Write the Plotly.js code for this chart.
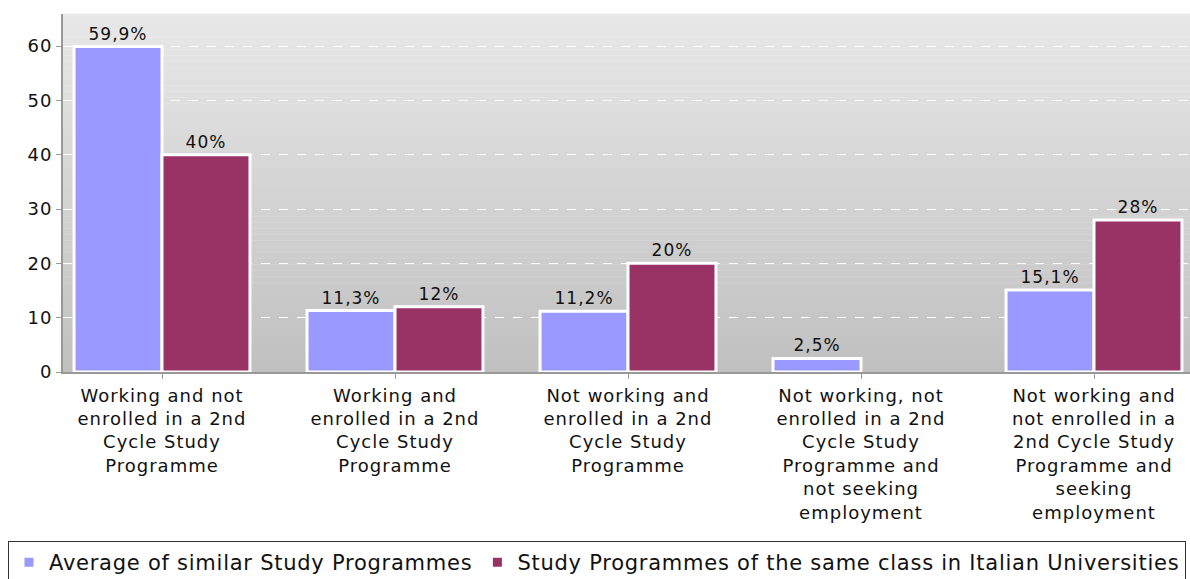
<!DOCTYPE html>
<html>
<head>
<meta charset="utf-8">
<script src="https://cdn.plot.ly/plotly-3.0.1.min.js"></script>
<style>
html,body{margin:0;padding:0;background:#fff;}
#chart{width:1190px;height:579px;}
text{letter-spacing:1px;}
text.legendtext{letter-spacing:0.75px;}
</style>
</head>
<body>
<div id="chart"></div>
<script>
const categories = [
  "Working and not<br>enrolled in a 2nd<br>Cycle Study<br>Programme",
  "Working and<br>enrolled in a 2nd<br>Cycle Study<br>Programme",
  "Not working and<br>enrolled in a 2nd<br>Cycle Study<br>Programme",
  "Not working, not<br>enrolled in a 2nd<br>Cycle Study<br>Programme and<br>not seeking<br>employment",
  "Not working and<br>not enrolled in a<br>2nd Cycle Study<br>Programme and<br>seeking<br>employment"
];
const seriesNames = [
  "Average of similar Study Programmes",
  "Study Programmes of the same class in Italian Universities"
];
const averageSimilar = [59.9, 11.3, 11.2, 2.5, 15.1];
const sameClassItaly = [40, 12, 20, null, 28];
const seriesColors = ["#9999ff", "#993366"];

const FONT = "DejaVu Sans, Verdana, sans-serif";
const xIdx = categories.map((c, i) => i);
function pctText(arr) {
  return arr.map(v => v === null ? "" : String(v).replace(".", ",") + "%");
}

function makeTrace(vals, i) {
  return {
    type: "bar",
    name: seriesNames[i],
    x: xIdx,
    y: vals,
    text: pctText(vals),
    textposition: "outside",
    cliponaxis: false,
    textfont: {family: FONT, size: 17, color: "#111"},
    marker: {color: seriesColors[i], line: {color: "#ffffff", width: 3}},
    hoverinfo: "none"
  };
}

const data = [makeTrace(averageSimilar, 0), makeTrace(sameClassItaly, 1)];

// vertical grey gradient for plot background
const shapes = [];
const N = 60;
const cTop = [232, 232, 232], cBot = [192, 192, 192];
for (let k = 0; k < N; k++) {
  const t = (k + 0.5) / N;
  const c = cTop.map((a, j) => Math.round(a + (cBot[j] - a) * t));
  shapes.push({
    type: "rect", xref: "paper", yref: "paper", layer: "below",
    x0: 0, x1: 1, y0: 1 - (k + 1) / N, y1: 1 - k / N + 0.001,
    fillcolor: "rgb(" + c.join(",") + ")", line: {width: 0}
  });
}

const layout = {
  width: 1190, height: 579,
  margin: {l: 63, r: 0, t: 14, b: 207, autoexpand: false},
  paper_bgcolor: "#ffffff",
  plot_bgcolor: "rgba(0,0,0,0)",
  separators: ",.",
  font: {family: FONT, size: 17, color: "#111"},
  barmode: "group",
  bargap: 0.245,
  bargroupgap: 0,
  showlegend: true,
  shapes: shapes,
  xaxis: {
    range: [-0.4249, 4.412],
    tickmode: "array",
    tickvals: xIdx,
    ticktext: categories,
    showgrid: false,
    showline: true, linecolor: "#999", linewidth: 2,
    ticks: "outside", ticklen: 5, tickcolor: "#999", tickwidth: 1,
    ticklabelstandoff: 1,
    tickfont: {family: FONT, size: 18, color: "#111"},
    zeroline: false, fixedrange: true
  },
  yaxis: {
    range: [0, 65.9],
    tickvals: [0, 10, 20, 30, 40, 50, 60],
    showgrid: true, gridcolor: "#ffffff", griddash: "dash", gridwidth: 1,
    showline: true, linecolor: "#999", linewidth: 2,
    ticks: "outside", ticklen: 5, tickcolor: "#999",
    tickfont: {family: FONT, size: 18, color: "#111"},
    zeroline: false, fixedrange: true
  },
  legend: {
    orientation: "h",
    x: -0.0488, xanchor: "left",
    y: -0.472, yanchor: "top",
    bgcolor: "#ffffff",
    bordercolor: "#333", borderwidth: 1,
    font: {family: FONT, size: 21, color: "#111"},
    itemwidth: 30,
    traceorder: "normal"
  }
};

Plotly.newPlot("chart", data, layout, {displayModeBar: false, staticPlot: true});
</script>
</body>
</html>
